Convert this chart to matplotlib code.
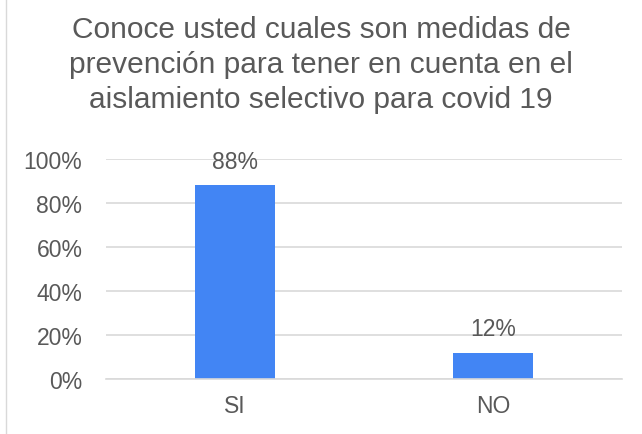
import matplotlib.pyplot as plt
from matplotlib.patches import Rectangle
import numpy as np

categories = ['SI', 'NO']
values = [0.88, 0.12]
labels = ['88%', '12%']
yticks = [0, 0.2, 0.4, 0.6, 0.8, 1.0]
ytick_labels = ['0%', '20%', '40%', '60%', '80%', '100%']
title = 'Conoce usted cuales son medidas de\nprevención para tener en cuenta en el\naislamiento selectivo para covid 19'

plt.rcParams['font.family'] = ['Liberation Sans', 'DejaVu Sans']
grey = '#595959'

fig = plt.figure(figsize=(6.42, 4.35), dpi=100)
ax = fig.add_axes([106 / 642, 1 - 380 / 435, (622 - 106) / 642, 220 / 435])

x = np.arange(len(categories))
ax.bar(x, values, width=0.31, color='#4285f4', zorder=3)
for xi, v, lab in zip(x, values, labels):
    ax.text(xi, v + 0.11, lab, ha='center', va='center', fontsize=16.5, color=grey)

ax.set_xlim(-0.5, 1.5)
ax.set_ylim(0, 1.0)
ax.set_yticks(yticks)
ax.set_yticklabels(ytick_labels)
ax.set_xticks(x)
ax.set_xticklabels(categories)
ax.tick_params(axis='both', length=0, labelsize=16.5, colors=grey)
ax.tick_params(axis='y', pad=17)
ax.tick_params(axis='x', pad=11)
ax.grid(axis='y', color='#d9d9d9', linewidth=1.2, zorder=0)
ax.set_axisbelow(True)
for s in ['top', 'right', 'left']:
    ax.spines[s].set_visible(False)
ax.spines['bottom'].set_color('#d9d9d9')
ax.spines['bottom'].set_linewidth(1.2)
ax.spines['bottom'].set_zorder(4)

fig.text(0.5, 1 - 65 / 435, title, ha='center', va='center', fontsize=21.5,
         color=grey, linespacing=1.3)

fig.patches.append(Rectangle((6 / 642, -0.01), 1.1, 1.1, transform=fig.transFigure,
                             fill=False, edgecolor='#d9d9d9', linewidth=1))

fig.savefig('out.png', dpi=100)
